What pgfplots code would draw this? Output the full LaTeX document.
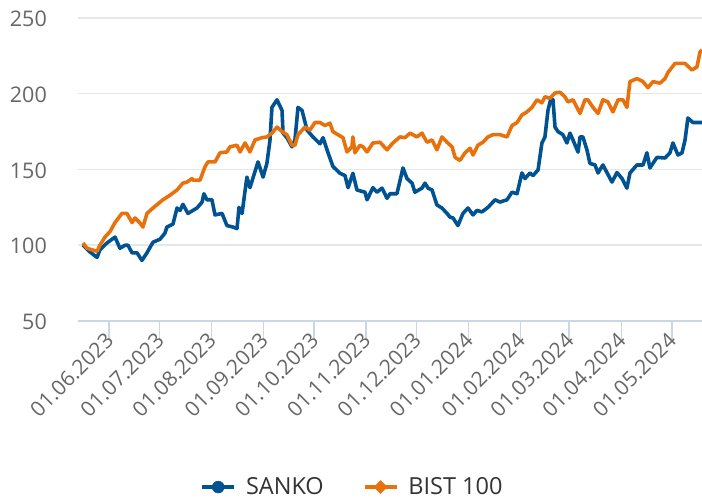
\documentclass[border=0pt]{standalone}
\usepackage{pgfplots}
\pgfplotsset{compat=1.18}
\usepackage{fontspec}
\setmainfont{Open Sans}
\definecolor{sankoblue}{RGB}{0,82,147}
\definecolor{bistorange}{RGB}{233,113,12}
\definecolor{gridgray}{RGB}{230,230,230}
\definecolor{axisblue}{RGB}{204,214,235}
\definecolor{ticktext}{RGB}{102,102,102}
\definecolor{legtext}{RGB}{51,51,51}
\begin{document}
\begin{tikzpicture}
\useasboundingbox (-78pt,-179pt) rectangle (624pt,321pt);
\begin{axis}[
  scale only axis,
  width=624pt, height=303pt,
  at={(0pt,0pt)}, anchor=south west,
  xmin=-18.45, xmax=353,
  ymin=50, ymax=250,
  ytick={50,100,150,200,250},
  xtick={0,30,61,92,122,153,183,214,245,274,305,335},
  xticklabels={01.06.2023,01.07.2023,01.08.2023,01.09.2023,01.10.2023,01.11.2023,01.12.2023,01.01.2024,01.02.2024,01.03.2024,01.04.2024,01.05.2024},
  axis x line*=bottom,
  axis y line*=left,
  x axis line style={-, draw=axisblue, line width=1.6pt},
  y axis line style={draw=none},
  ymajorgrids,
  grid style={gridgray, line width=1.5pt},
  tick align=outside,
  xtick style={axisblue, line width=1.6pt},
  major tick length=18pt,
  ytick style={draw=none},
  /pgf/number format/assume math mode=true,
  yticklabel style={font=\fontsize{21.5}{22}\selectfont, text=ticktext, anchor=east, inner sep=0pt, xshift=-13pt, yshift=-1pt},
  xticklabel style={font=\fontsize{21}{22}\selectfont, text=ticktext, rotate=45, anchor=east, inner sep=0pt, xshift=2pt, yshift=1pt},
  clip=true,
  legend columns=2,
  legend style={at={(0.439,-0.548)}, anchor=center, draw=none, fill=none,
    font=\fontsize{23.5}{24}\selectfont, text=legtext,
    nodes={inner sep=1pt},
    /tikz/every odd column/.append style={column sep=9pt},
    /tikz/every even column/.append style={column sep=38pt},
    inner sep=0pt},
]
\addplot[sankoblue, line width=3.6pt, line join=round, forget plot] coordinates {
(-15.5,100.2) (-11.3,95.5) (-7.1,92) (-5.4,97) (-1.2,101.5) (3.6,105.4) (6.5,98) (9.5,100) (11.3,100) (13.7,95) (16.7,95) (19.6,90) (22.6,95) (26.2,102) (30.4,104) (33.3,108) (34.5,112) (38.1,114) (40.5,124.6) (42.3,123) (44.0,127) (47.0,121) (52.4,124.6) (55.4,128.5) (56.5,134) (58.3,130) (61.3,130) (63.1,120) (67.3,121) (70.2,113) (73.8,112) (76.2,111) (77.4,125) (79.2,121) (82.1,145) (83.9,138) (88.7,155) (91.7,145) (94.0,154) (95.8,169) (97.0,191) (100.0,196) (103.0,189) (103.6,174) (105.9,171) (108.9,165) (110.7,169.5) (112.5,191) (114.9,189) (117.9,176) (121.4,171.5) (125.6,167) (127.4,171) (130.4,161) (133.3,152) (137.5,147.5) (140.5,146) (142.3,138) (145.2,147.5) (147.6,136.5) (152.4,135) (153.6,130) (157.1,138) (159.5,135) (162.5,137.7) (165.5,131) (167.3,134) (171.4,134) (175.0,151) (177.4,144) (180.4,141) (182.1,135) (186.3,137.7) (188.1,141) (189.9,137.7) (192.3,136.5) (195.2,126.6) (198.2,124.6) (201.2,121) (203.0,118.6) (204.8,118) (207.7,113) (210.7,121) (213.7,124.6) (216.7,120) (219.0,123) (222.0,122) (225.6,125) (229.8,130) (232.7,128.5) (236.9,130) (239.9,135) (242.9,134) (245.8,147.7) (247.6,144) (250.6,147.7) (252.4,146) (255.4,149.7) (257.7,167.5) (259.5,171.5) (261.3,189) (263.1,197) (264.3,196) (265.5,178) (267.3,175) (270.2,173) (272.6,167.5) (274.4,174) (276.2,169.5) (279.2,161.5) (280.4,171.5) (282.1,171.5) (284.5,163) (286.3,154) (289.3,153) (291.1,147.7) (294.0,153) (296.4,148) (299.4,141.7) (302.4,148) (305.4,144) (308.3,137.7) (310.1,147.7) (314.3,153) (317.9,153) (320.2,161) (322.0,151) (326.2,158) (331.0,157.6) (333.9,161) (335.7,167.5) (338.7,159.6) (341.1,161) (342.9,169.5) (344.6,184) (347.6,181) (353.0,181)
};
\addplot[bistorange, line width=3.6pt, line join=round, forget plot] coordinates {
(-15.5,101.5) (-13.1,98) (-7.1,96) (-5.4,100) (-2.4,105.4) (0.6,109) (3.6,115) (7.7,121) (10.7,121) (13.7,115) (15.5,118) (18.5,114.6) (20.2,112) (22.6,121) (26.2,124.6) (32.1,130) (36.3,133) (40.5,136.5) (44.0,141) (46.4,141.7) (48.2,143) (49.4,144) (50.0,143) (54.2,143) (57.1,151.7) (58.9,155) (63.1,155) (66.1,161) (70.2,161.6) (72.0,165) (76.2,166) (78.0,161.6) (81.0,167.5) (83.9,161.6) (86.9,169.5) (91.1,171) (94.0,171.5) (97.0,174) (100.0,178) (103.0,175) (105.9,173) (108.9,166) (110.7,166) (112.5,173) (116.7,178) (119.6,176) (122.6,181) (125.6,181) (128.6,179) (131.5,180.6) (133.3,175) (136.3,173) (139.3,171) (141.7,161.6) (144.6,165) (145.2,171.5) (146.4,161) (149.4,166) (151.2,165) (153.6,161.6) (157.1,167.5) (161.3,168) (165.5,163) (169.0,167.5) (173.2,171.5) (176.2,171) (179.2,174) (183.3,171.5) (186.3,174) (189.3,168) (192.3,169.5) (195.2,163) (198.2,171.5) (201.2,168) (204.2,165) (206.0,158) (208.9,156) (211.9,161) (214.9,164) (216.7,159.6) (219.6,166) (222.6,168) (225.6,171.5) (228.6,173) (232.7,173) (236.9,171.5) (239.9,179) (242.9,181) (245.8,186) (248.8,188) (251.8,191) (254.8,196) (257.7,194) (259.5,198) (262.5,197) (265.5,200.5) (268.5,201) (271.4,198) (273.2,194.6) (276.2,196) (280.4,187) (283.3,196) (285.1,196) (288.1,191) (291.1,187) (294.0,196) (297.0,194.6) (300.0,188) (303.0,196) (305.9,196) (308.3,191) (310.1,208) (314.3,210) (317.9,208) (320.8,204) (323.8,208) (328.0,207) (331.0,210) (332.7,214) (336.9,220) (339.9,220) (342.9,220) (347.0,215.7) (350.0,217.7) (351.8,227.5) (353.0,229)
};
\addlegendimage{legend image code/.code={\draw[sankoblue, line width=3.6pt] (0pt,0pt) -- (32pt,0pt); \fill[sankoblue] (16pt,0pt) circle (6pt);}}
\addlegendentry{SANKO}
\addlegendimage{legend image code/.code={\draw[bistorange, line width=3.6pt] (0pt,0pt) -- (32pt,0pt); \fill[bistorange] (16pt,-6.5pt) -- (22.5pt,0pt) -- (16pt,6.5pt) -- (9.5pt,0pt) -- cycle;}}
\addlegendentry{BIST 100}
\end{axis}
\end{tikzpicture}
\end{document}
